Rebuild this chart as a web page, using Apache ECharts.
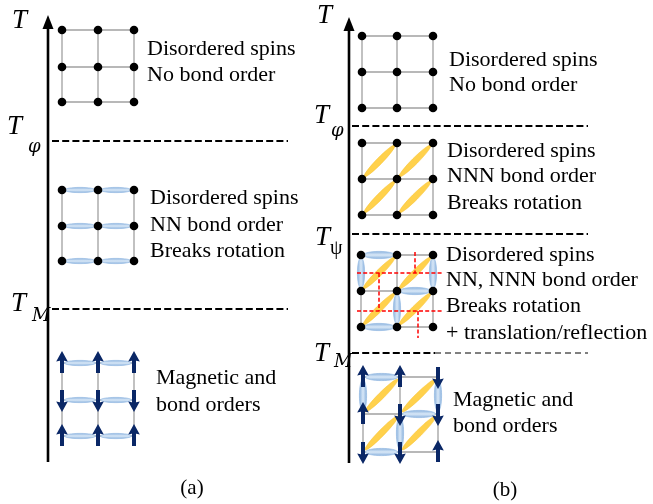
<!DOCTYPE html>
<html><head><meta charset="utf-8">
<script src="https://cdn.jsdelivr.net/npm/echarts@6/dist/echarts.min.js"></script>
<style>html,body{margin:0;padding:0;background:#fff}#main{width:653px;height:504px}</style>
</head><body><div id="main"></div>
<script>
// ---------- data (diagram units: x 0..653 to the right, y 0..504 downward) ----------
// lattice index: 0..2 = panel (a) top..bottom, 3..6 = panel (b) top..bottom
const latticeCols = [[62,98,134],[62,98,134],[62,98,134],[362,397,433],[362,397,433],[361,397,433],[363,400,438]];
const latticeRows = [[30,67,102],[190,226,261],[363,400,436],[36,72,108],[143,179,215],[255,291,327],[377,414,452]];
const latticePanel = [0,0,0,1,1,1,1];
const dotLattices = [0,1,3,4,5];
const spinLattices = [2,6];
const spinSigns = [
  [[1,1,1],[-1,-1,-1],[1,1,1]],
  [[1,1,-1],[1,-1,-1],[-1,-1,1]]
];
// nearest-neighbour bonds (blue): [lattice, r1, c1, r2, c2]
const nnBonds = [
  [1,0,0,0,1],[1,0,1,0,2],[1,1,0,1,1],[1,1,1,1,2],[1,2,0,2,1],[1,2,1,2,2],
  [2,0,0,0,1],[2,0,1,0,2],[2,1,0,1,1],[2,1,1,1,2],[2,2,0,2,1],[2,2,1,2,2],
  [5,0,0,0,1],[5,0,0,1,0],[5,0,2,1,2],[5,1,1,1,2],[5,1,1,2,1],[5,2,0,2,1],
  [6,0,0,0,1],[6,0,0,1,0],[6,0,2,1,2],[6,1,1,1,2],[6,1,1,2,1],[6,2,0,2,1]
];
// next-nearest-neighbour bonds (yellow): [lattice, r1, c1, r2, c2]
const nnnBonds = [
  [4,1,0,0,1],[4,1,1,0,2],[4,2,0,1,1],[4,2,1,1,2],
  [5,1,0,0,1],[5,1,1,0,2],[5,2,0,1,1],[5,2,1,1,2],
  [6,1,0,0,1],[6,1,1,0,2],[6,2,0,1,1],[6,2,1,1,2]
];
// red dashed domain walls: [x1, y1, x2, y2]
const domainWalls = [[357,273,443,273],[357,311,443,311],[415,252,415,273],[379,273,379,311],[418,311,418,338]];
// temperature axes: [x, arrow tip y, bottom y]
const tAxes = [[48,15,462],[349,17,463]];
// transition lines: [x1, x2, y, heavy(1)/light(0)]
const transitions = [[52,288,141,1],[52,288,309,1],[352,588,126,1],[352,588,234,1],[352,435,353,1],[435,588,353,0]];
// temperature symbols: [text, x, baseline y]
const tempSymbols = [['T',12,30],['T',7,136],['T',11,313],['T',317,25],['T',314,125],['T',315,247],['T',314,363]];
const tempSubscripts = [['φ',28,153],['M',32,322],['φ',331,137],['M',334,368]];
const tempSubscriptsUpright = [['ψ',330,255]];
// phase descriptions: [text, x, baseline y]
const descriptions = [
  ['Disordered spins',147,56],['No bond order',147,82],
  ['Disordered spins',150,205],['NN bond order',150,232],['Breaks rotation',150,258],
  ['Magnetic and',156,385],['bond orders',156,412],
  ['Disordered spins',449,67],['No bond order',449,92],
  ['Disordered spins',447,158],['NNN bond order',447,183],['Breaks rotation',447,210],
  ['Disordered spins',446,262],['NN, NNN bond order',446,287],['Breaks rotation',446,313],['+ translation/reflection',446,340],
  ['Magnetic and',453,407],['bond orders',453,433]
];
const captions = [['(a)',192,495],['(b)',505,497]];

// ---------- styles ----------
const SERIF = "Liberation Serif";
const MATH = "DejaVu Serif";
const NAVY = '#0a2766';
const nnHalfWidth = [2.6, 3.6];

// ---------- derived series data ----------
const gridSegs = [];
latticeCols.forEach((cols, L) => {
  const rows = latticeRows[L];
  rows.forEach(y => gridSegs.push([cols[0], y, cols[2], y]));
  cols.forEach(x => gridSegs.push([x, rows[0], x, rows[2]]));
});
const bondData = list => list.map(b => {
  const L = b[0];
  return [latticeCols[L][b[2]], latticeRows[L][b[1]], latticeCols[L][b[4]], latticeRows[L][b[3]], latticePanel[L]];
});
const dots = [];
dotLattices.forEach(L => latticeRows[L].forEach(y => latticeCols[L].forEach(x => dots.push([x, y]))));
const spins = [];
spinLattices.forEach((L, k) => latticeRows[L].forEach((y, r) => latticeCols[L].forEach((x, c) => spins.push([x, y, spinSigns[k][r][c]]))));

function seg(api) {
  const a = api.coord([api.value(0), api.value(1)]);
  const b = api.coord([api.value(2), api.value(3)]);
  return {x1: a[0], y1: a[1], x2: b[0], y2: b[1]};
}
function ellipseBond(api, inset, halfW, style) {
  const a = api.coord([api.value(0), api.value(1)]);
  const b = api.coord([api.value(2), api.value(3)]);
  const len = Math.hypot(b[0] - a[0], b[1] - a[1]);
  const ang = Math.atan2(b[1] - a[1], b[0] - a[0]);
  return {type: 'ellipse', x: (a[0] + b[0]) / 2, y: (a[1] + b[1]) / 2, rotation: -ang,
    shape: {cx: 0, cy: 0, rx: len / 2 - inset, ry: halfW}, style: style};
}
function textSeries(list, family, size, italic, align) {
  return {
    type: 'custom', coordinateSystem: 'cartesian2d', silent: true, z: 10,
    data: list.map(t => [t[1], t[2]]),
    renderItem: (params, api) => {
      const p = api.coord([api.value(0), api.value(1)]);
      return {type: 'text', x: p[0], y: p[1] - size * 0.33,
        style: {text: list[params.dataIndex][0],
          fontFamily: family, fontSize: size, fontStyle: italic ? 'italic' : 'normal',
          fill: '#000', align: align, verticalAlign: 'middle'}};
    }
  };
}

const chart = echarts.init(document.getElementById('main'), null, {renderer: 'canvas'});
chart.setOption({
  animation: false,
  backgroundColor: '#fff',
  textStyle: {fontFamily: SERIF},
  grid: {left: 0, right: 0, top: 0, bottom: 0},
  xAxis: {type: 'value', min: 0, max: 653, show: false},
  yAxis: {type: 'value', min: 0, max: 504, inverse: true, show: false},
  series: [
    { // lattice grid
      type: 'custom', coordinateSystem: 'cartesian2d', silent: true, z: 1, data: gridSegs,
      renderItem: (p, api) => ({type: 'line', shape: seg(api), style: {stroke: '#a0a0a0', lineWidth: 1.3}})
    },
    { // NN bonds
      type: 'custom', coordinateSystem: 'cartesian2d', silent: true, z: 2, data: bondData(nnBonds),
      renderItem: (p, api) => ellipseBond(api, 2.5, nnHalfWidth[api.value(4)], {
        fill: new echarts.graphic.LinearGradient(0, 0, 0, 1, [
          {offset: 0, color: '#86afdc'}, {offset: 0.5, color: '#d9e8f7'}, {offset: 1, color: '#86afdc'}]),
        stroke: '#93b9e2', lineWidth: 0.7})
    },
    { // NNN bonds
      type: 'custom', coordinateSystem: 'cartesian2d', silent: true, z: 3, data: bondData(nnnBonds),
      renderItem: (p, api) => ellipseBond(api, 3, 3.1, {fill: '#ffd14c', stroke: '#f7c232', lineWidth: 0.5})
    },
    { // domain walls
      type: 'custom', coordinateSystem: 'cartesian2d', silent: true, z: 4, data: domainWalls,
      renderItem: (p, api) => ({type: 'line', shape: seg(api), style: {stroke: '#ff0000', lineWidth: 1.5, lineDash: [4, 2.2]}})
    },
    { // lattice sites
      type: 'scatter', silent: true, z: 5, data: dots, symbol: 'circle', symbolSize: 8.6,
      itemStyle: {color: '#000', opacity: 1}
    },
    { // spins
      type: 'custom', coordinateSystem: 'cartesian2d', silent: true, z: 6, data: spins,
      renderItem: (p, api) => {
        const c = api.coord([api.value(0), api.value(1)]);
        const s = api.value(2);
        const tip = c[1] - s * 12, tail = c[1] + s * 10, headBase = tip + s * 10;
        return {type: 'group', children: [
          {type: 'polygon', shape: {points: [[c[0], tip], [c[0] - 5.8, headBase + s * 0.6], [c[0], headBase - s * 0.8], [c[0] + 5.8, headBase + s * 0.6]]}, style: {fill: NAVY}},
          {type: 'rect', shape: {x: c[0] - 2, y: Math.min(headBase - s * 2, tail), width: 4, height: Math.abs(tail - (headBase - s * 2))}, style: {fill: NAVY}}
        ]};
      }
    },
    { // temperature axes
      type: 'custom', coordinateSystem: 'cartesian2d', silent: true, z: 7, data: tAxes,
      renderItem: (p, api) => {
        const top = api.coord([api.value(0), api.value(1)]);
        const bot = api.coord([api.value(0), api.value(2)]);
        return {type: 'group', children: [
          {type: 'line', shape: {x1: top[0], y1: top[1] + 10, x2: bot[0], y2: bot[1]}, style: {stroke: '#000', lineWidth: 2.6}},
          {type: 'polygon', shape: {points: [[top[0], top[1]], [top[0] - 5.5, top[1] + 14], [top[0] + 5.5, top[1] + 14]]}, style: {fill: '#000'}}
        ]};
      }
    },
    { // transition lines
      type: 'custom', coordinateSystem: 'cartesian2d', silent: true, z: 7, data: transitions,
      renderItem: (p, api) => {
        const a = api.coord([api.value(0), api.value(2)]);
        const b = api.coord([api.value(1), api.value(2)]);
        const heavy = api.value(3) === 1;
        return {type: 'line', shape: {x1: a[0], y1: a[1], x2: b[0], y2: b[1]},
          style: {stroke: '#000', lineWidth: heavy ? 2 : 1, lineDash: heavy ? [7, 3.2] : [6, 4]}};
      }
    },
    textSeries(tempSymbols, SERIF, 27, true, 'left'),
    textSeries(tempSubscripts, MATH, 18, true, 'left'),
    textSeries(tempSubscriptsUpright, SERIF, 20, false, 'left'),
    textSeries(descriptions, SERIF, 22, false, 'left'),
    textSeries(captions, SERIF, 21, false, 'center')
  ]
});
</script></body></html>
